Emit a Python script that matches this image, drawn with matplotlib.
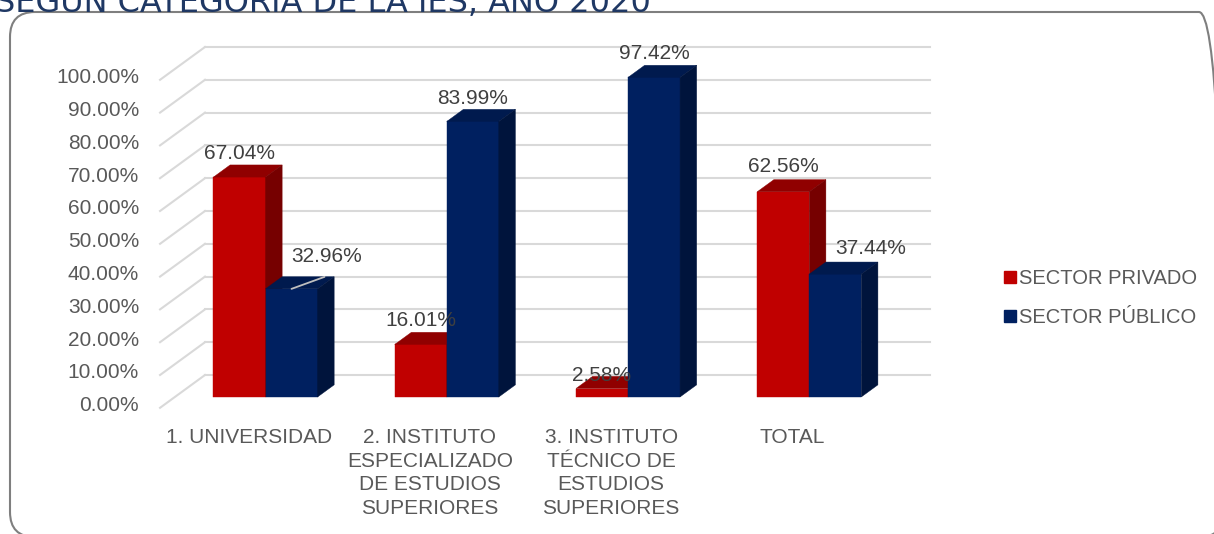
import matplotlib
matplotlib.use("Agg")
import matplotlib.pyplot as plt
from matplotlib.patches import Polygon, FancyBboxPatch
from matplotlib.lines import Line2D

plt.rcParams['font.family'] = ['Liberation Sans', 'DejaVu Sans']

# ---- data ----
categories = ["1. UNIVERSIDAD",
              "2. INSTITUTO\nESPECIALIZADO\nDE ESTUDIOS\nSUPERIORES",
              "3. INSTITUTO\nTÉCNICO DE\nESTUDIOS\nSUPERIORES",
              "TOTAL"]
series_names = ["SECTOR PRIVADO", "SECTOR PÚBLICO"]
privado = [67.04, 16.01, 2.58, 62.56]
publico = [32.96, 83.99, 97.42, 37.44]
yticks = [0, 10, 20, 30, 40, 50, 60, 70, 80, 90, 100]

# ---- style ----
W, H = 1214, 534
front_col = ["#C00000", "#002060"]
top_col = ["#900000", "#001A4E"]
side_col = ["#760000", "#00143C"]
grid_col = "#D9D9D9"
txt_col = "#595959"
lbl_col = "#404040"
FS = 15

DX = 0.248   # depth shift (data x units) from front to back
DY = 10.0    # depth shift (data y units)
D0, D1 = 0.33, 0.70   # bar front / back depth
BW = 0.287            # bar width

fig = plt.figure(figsize=(W / 100, H / 100), dpi=100)
# axes = the back wall of the 3D box
ax = fig.add_axes([205 / W, (H - 375) / H, 725 / W, 328 / H])
ax.set_xlim(-0.5, len(categories) - 0.5)
ax.set_ylim(0, 100)
ax.axis("off")


def proj(x, y, d):
    s = 1 - d
    return (x - s * DX, y - s * DY)


# gridlines: back wall + left wall diagonals
for v in yticks:
    ax.plot([-0.5, len(categories) - 0.5], [v, v], color=grid_col, lw=1.5,
            clip_on=False, zorder=1)
    p0, p1 = proj(-0.5, v, 0), proj(-0.5, v, 1)
    ax.plot([p0[0], p1[0]], [p0[1], p1[1]], color=grid_col, lw=1.5,
            clip_on=False, zorder=1)
    ax.annotate(f"{v:.2f}%", xy=p0, xytext=(-21, 2), textcoords="offset pixels",
                ha="right", va="center", fontsize=FS, color=txt_col,
                annotation_clip=False)


def bar3d(x0, x1, v, k, z):
    faces = [
        ([proj(x0, 0, D0), proj(x1, 0, D0), proj(x1, v, D0), proj(x0, v, D0)], front_col[k]),
        ([proj(x0, v, D0), proj(x1, v, D0), proj(x1, v, D1), proj(x0, v, D1)], top_col[k]),
        ([proj(x1, 0, D0), proj(x1, v, D0), proj(x1, v, D1), proj(x1, 0, D1)], side_col[k]),
    ]
    for pts, c in faces:
        ax.add_patch(Polygon(pts, closed=True, facecolor=c, edgecolor=c, lw=0.3,
                             clip_on=False, zorder=z))


# label offsets in pixels from front-top centre of each bar
offs = {(0, 0): (0, 24), (0, 1): (35, 32),
        (1, 0): (0, 24), (1, 1): (0, 23),
        (2, 0): (0, 13), (2, 1): (0, 24),
        (3, 0): (0, 25), (3, 1): (35, 26)}

for i in range(len(categories)):
    for k, vals in enumerate([privado, publico]):
        x0 = i - BW if k == 0 else i
        x1 = x0 + BW
        bar3d(x0, x1, vals[i], k, 3 + 2 * i + k)

for i in range(len(categories)):
    for k, vals in enumerate([privado, publico]):
        x0 = i - BW if k == 0 else i
        xc = x0 + BW / 2
        pt = proj(xc, vals[i], D0)
        ax.annotate(f"{vals[i]:.2f}%", xy=pt, xytext=offs[(i, k)],
                    textcoords="offset pixels", ha="center", va="center",
                    fontsize=FS, color=lbl_col, annotation_clip=False, zorder=20)
    # category label
    ax.annotate(categories[i], xy=proj(i, 0, 0), xytext=(-2, -20),
                textcoords="offset pixels", ha="center", va="top",
                fontsize=FS, color=txt_col, linespacing=1.32,
                annotation_clip=False)

# leader line for the moved 32.96% label
lp = proj(BW / 2, publico[0], D0)
ax.annotate("", xy=lp, xytext=(33, 12), textcoords="offset pixels",
            arrowprops=dict(arrowstyle="-", color="#BFBFBF", lw=1.3,
                            shrinkA=0, shrinkB=0),
            annotation_clip=False, zorder=25)

# legend
handles = [Line2D([], [], marker="s", ls="", color=c, markersize=9)
           for c in front_col]
fig.legend(handles, series_names, loc="center left",
           bbox_to_anchor=(984 / W, 1 - 298 / H), frameon=False,
           fontsize=14.5, labelcolor=txt_col, handletextpad=0.05,
           labelspacing=0.95, handlelength=0.8)

# rounded frame
frame = FancyBboxPatch((0.10, -0.03), 12.14, 5.25,
                       boxstyle="round,pad=0,rounding_size=0.25",
                       transform=fig.dpi_scale_trans, facecolor="none",
                       edgecolor="#7F7F7F", lw=1.5)
fig.patches.append(frame)

# title (cut off at top in the original)
fig.text(-0.004, 1 - 12 / H, "SEGÚN CATEGORÍA DE LA IES, AÑO 2020",
         ha="left", va="baseline", fontsize=23, color="#1F3864",
         family=["DejaVu Sans"])

fig.savefig("out.png", dpi=100)
